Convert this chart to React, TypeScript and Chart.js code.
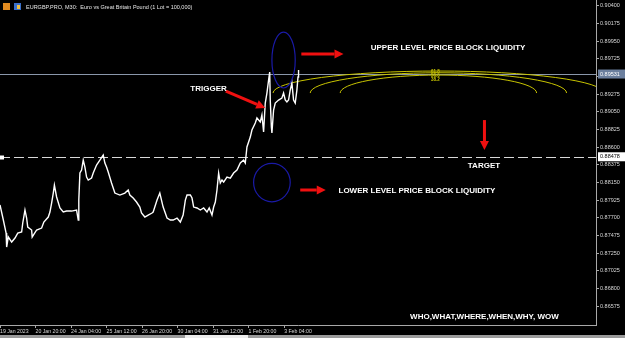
import React, { useEffect, useRef } from "react";
import { Chart, registerables } from "chart.js";
Chart.register(...registerables);

// ---- data (bar index of M30 candles, close price) ----
const barIndex = [0,6,11,12,15,21,27,32,39,41,45,48,50,57,58,66,75,79,87,90,93,96,98,102,108,114,120,129,138,141,142,144,147,150,153,156,159,165,168,174,180,186,189,192,195,201,207,216,225,231,234,240,246,252,255,261,267,274,276,283,288,294,301,307,312,319,325,330,334,337,343,346,349,355,361,367,373,377,382,385,388,391,394,397,400,403,409,415,421,427,433,439,442,445,451,454,460,463,469,472,475,478,481,484,486,487,489,490,493,496,502,508,511,514,517,520,523,526,529,532,535,537,538];
const closePrice = [0.87864,0.87673,0.87507,0.87329,0.87457,0.87393,0.87444,0.87507,0.87520,0.87635,0.87800,0.87698,0.87584,0.87546,0.87457,0.87546,0.87571,0.87647,0.87711,0.87775,0.87889,0.88016,0.88118,0.87966,0.87826,0.87775,0.87787,0.87787,0.87800,0.87673,0.87927,0.88271,0.88309,0.88436,0.88347,0.88220,0.88182,0.88207,0.88271,0.88373,0.88436,0.88500,0.88398,0.88347,0.88284,0.88144,0.88016,0.87991,0.88016,0.88055,0.87991,0.87953,0.87902,0.87838,0.87762,0.87711,0.87736,0.87762,0.87775,0.87927,0.88016,0.87838,0.87698,0.87673,0.87673,0.87698,0.87647,0.87736,0.87927,0.87991,0.87991,0.87953,0.87838,0.87826,0.87800,0.87826,0.87775,0.87826,0.87736,0.87838,0.87902,0.88055,0.88271,0.88144,0.88182,0.88156,0.88220,0.88207,0.88271,0.88309,0.88398,0.88436,0.88398,0.88602,0.88729,0.88818,0.88907,0.88971,0.88920,0.89009,0.88793,0.89162,0.89289,0.89454,0.89556,0.89200,0.88856,0.88780,0.89073,0.89162,0.89200,0.89225,0.89289,0.89200,0.89175,0.89200,0.89327,0.89416,0.89200,0.89162,0.89327,0.89493,0.89582];

const xTickBars = [0, 64, 128, 192, 256, 320, 384, 448, 512];
const xTickLabels = ["19 Jan 2023","20 Jan 20:00","24 Jan 04:00","25 Jan 12:00","26 Jan 20:00","30 Jan 04:00","31 Jan 12:00","1 Feb 20:00","3 Feb 04:00"];
const yTickValues = [0.86575,0.868,0.87025,0.8725,0.87475,0.877,0.87925,0.8815,0.88375,0.886,0.88825,0.8905,0.89275,0.895,0.89725,0.8995,0.90175,0.904];

const xMin = 0, xMax = 1074;
const yMin = 0.86337, yMax = 0.90473;

const currentPrice = 0.89531;
const targetPrice = 0.88478;

// annotation objects in data space (bar, price)
const ellipses = [
  { cx: 511, cy: 0.89709, rx: 21, ry: 0.00356 },
  { cx: 490, cy: 0.8815, rx: 33, ry: 0.00245 },
];
const fibCenter = { x: 790, y: 0.89289 };
const fibArcs = [
  { rx: 298, ry: 0.0028 },
  { rx: 231, ry: 0.00258 },
  { rx: 177, ry: 0.00229 },
];
const fibLabels = [
  { text: "61.8", y: 0.89563 },
  { text: "50.0", y: 0.89512 },
  { text: "38.2", y: 0.89461 },
];
const arrows = [
  { x1: 407, y1: 0.89314, x2: 478, y2: 0.89098 },
  { x1: 543, y1: 0.89785, x2: 619, y2: 0.89785 },
  { x1: 541, y1: 0.88055, x2: 587, y2: 0.88055 },
  { x1: 873, y1: 0.88945, x2: 873, y2: 0.88564 },
];
const notes = [
  { text: "UPPER LEVEL PRICE BLOCK LIQUIDITY", x: 668, y: 0.89862 },
  { text: "TRIGGER", x: 343, y: 0.8934 },
  { text: "TARGET", x: 843, y: 0.8836 },
  { text: "LOWER LEVEL PRICE BLOCK LIQUIDITY", x: 610, y: 0.88042 },
  { text: "WHO,WHAT,WHERE,WHEN,WHY, WOW", x: 739, y: 0.86438 },
];
const titleText = "EURGBP.PRO, M30:  Euro vs Great Britain Pound (1 Lot = 100,000)";

const FONT = "'Liberation Sans', Arial, sans-serif";

const drawArrow = (ctx: CanvasRenderingContext2D, x1: number, y1: number, x2: number, y2: number) => {
  const ang = Math.atan2(y2 - y1, x2 - x1);
  const head = 9, hw = 4.5;
  const bx = x2 - Math.cos(ang) * head, by = y2 - Math.sin(ang) * head;
  ctx.strokeStyle = "#f01010";
  ctx.fillStyle = "#f01010";
  ctx.lineWidth = 3;
  ctx.beginPath();
  ctx.moveTo(x1, y1);
  ctx.lineTo(bx, by);
  ctx.stroke();
  ctx.beginPath();
  ctx.moveTo(x2, y2);
  ctx.lineTo(bx + Math.sin(ang) * hw, by - Math.cos(ang) * hw);
  ctx.lineTo(bx - Math.sin(ang) * hw, by + Math.cos(ang) * hw);
  ctx.closePath();
  ctx.fill();
};

const overlay = {
  id: "mtOverlay",
  beforeDraw(chart: any) {
    const { ctx, width, height } = chart;
    ctx.save();
    ctx.fillStyle = "#000";
    ctx.fillRect(0, 0, width, height);
    ctx.restore();
  },
  beforeDatasetsDraw(chart: any) {
    const { ctx, chartArea: a, scales } = chart;
    const xs = scales.x, ys = scales.y;
    ctx.save();
    ctx.beginPath();
    ctx.rect(a.left, a.top, a.right - a.left, a.bottom - a.top);
    ctx.clip();
    const yc = Math.round(ys.getPixelForValue(currentPrice)) + 0.5;
    ctx.strokeStyle = "#8a97aa";
    ctx.lineWidth = 1;
    ctx.beginPath();
    ctx.moveTo(a.left, yc);
    ctx.lineTo(a.right, yc);
    ctx.stroke();
    const yt = Math.round(ys.getPixelForValue(targetPrice)) + 0.5;
    ctx.strokeStyle = "#d8d8d8";
    ctx.setLineDash([10, 4]);
    ctx.beginPath();
    ctx.moveTo(a.left, yt);
    ctx.lineTo(a.right, yt);
    ctx.stroke();
    ctx.setLineDash([]);
    ctx.fillStyle = "#ffffff";
    ctx.fillRect(a.left, yt - 2, 4, 4);
    const fcx = xs.getPixelForValue(fibCenter.x), fcy = ys.getPixelForValue(fibCenter.y);
    ctx.strokeStyle = "#c8c400";
    ctx.lineWidth = 1;
    fibArcs.forEach((f) => {
      const rx = Math.abs(xs.getPixelForValue(fibCenter.x + f.rx) - fcx);
      const ry = Math.abs(ys.getPixelForValue(fibCenter.y + f.ry) - fcy);
      ctx.beginPath();
      ctx.ellipse(fcx, fcy, rx, ry, 0, Math.PI, 2 * Math.PI);
      ctx.stroke();
    });
    ctx.fillStyle = "#c8c400";
    ctx.font = `bold 4.5px ${FONT}`;
    ctx.textAlign = "center";
    ctx.textBaseline = "middle";
    fibLabels.forEach((l) => ctx.fillText(l.text, fcx - 3, ys.getPixelForValue(l.y)));
    ctx.restore();
  },
  afterDatasetsDraw(chart: any) {
    const { ctx, scales } = chart;
    const xs = scales.x, ys = scales.y;
    ctx.save();
    ctx.strokeStyle = "#1a1aa6";
    ctx.lineWidth = 1.2;
    ellipses.forEach((e) => {
      const cx = xs.getPixelForValue(e.cx), cy = ys.getPixelForValue(e.cy);
      const rx = Math.abs(xs.getPixelForValue(e.cx + e.rx) - cx);
      const ry = Math.abs(ys.getPixelForValue(e.cy + e.ry) - cy);
      ctx.beginPath();
      ctx.ellipse(cx, cy, rx, ry, 0, 0, 2 * Math.PI);
      ctx.stroke();
    });
    arrows.forEach((r) =>
      drawArrow(ctx, xs.getPixelForValue(r.x1), ys.getPixelForValue(r.y1), xs.getPixelForValue(r.x2), ys.getPixelForValue(r.y2))
    );
    ctx.fillStyle = "#ffffff";
    ctx.font = `bold 8px ${FONT}`;
    ctx.textAlign = "left";
    ctx.textBaseline = "middle";
    notes.forEach((n) => ctx.fillText(n.text, xs.getPixelForValue(n.x), ys.getPixelForValue(n.y)));
    ctx.restore();
  },
  afterDraw(chart: any) {
    const { ctx, chartArea: a, scales, width, height } = chart;
    const ys = scales.y;
    ctx.save();
    ctx.font = `5.5px ${FONT}`;
    ctx.textAlign = "left";
    ctx.textBaseline = "middle";
    const yc = ys.getPixelForValue(currentPrice);
    ctx.fillStyle = "#6b7f9e";
    ctx.fillRect(a.right + 2, yc - 4.5, 27, 9);
    ctx.fillStyle = "#ffffff";
    ctx.fillText(currentPrice.toFixed(5), a.right + 4, yc);
    const yt = ys.getPixelForValue(targetPrice);
    ctx.fillStyle = "#ffffff";
    ctx.fillRect(a.right + 2, yt - 4.5, 27, 9);
    ctx.fillStyle = "#000000";
    ctx.fillText(targetPrice.toFixed(5), a.right + 4, yt);
    ctx.fillStyle = "#e08a20";
    ctx.fillRect(3, 3, 7, 7);
    ctx.fillStyle = "#3a6fc8";
    ctx.fillRect(14, 3, 7, 7);
    ctx.fillStyle = "#f0c040";
    ctx.fillRect(17, 5, 3, 4);
    ctx.fillStyle = "#e6e6e6";
    ctx.font = `5.5px ${FONT}`;
    ctx.fillText(titleText, 26, 7);
    ctx.fillStyle = "#9a9a9a";
    ctx.fillRect(0, height - 3, width, 3);
    ctx.fillStyle = "#ececec";
    ctx.fillRect(185, height - 3, 63, 3);
    ctx.restore();
  },
};

export default function App() {
  const ref = useRef<HTMLCanvasElement | null>(null);
  useEffect(() => {
    if (!ref.current) return;
    const points = barIndex.map((b, i) => ({ x: b, y: closePrice[i] }));
    const chart = new Chart(ref.current, {
      type: "line",
      data: {
        datasets: [
          {
            data: points,
            borderColor: "#ffffff",
            borderWidth: 1.4,
            pointRadius: 0,
            tension: 0,
          },
        ],
      },
      options: {
        animation: false,
        responsive: false,
        devicePixelRatio: 1,
        layout: { padding: 0 },
        plugins: { legend: { display: false }, tooltip: { enabled: false }, title: { display: false } },
        scales: {
          x: {
            type: "linear",
            position: "bottom",
            min: xMin,
            max: xMax,
            afterBuildTicks: (s: any) => {
              s.ticks = xTickBars.map((v) => ({ value: v }));
            },
            afterFit: (s: any) => {
              s.height = 13;
              s.paddingLeft = 0;
              s.paddingRight = 0;
            },
            ticks: {
              autoSkip: false,
              maxRotation: 0,
              align: "start",
              padding: 0,
              color: "#d8d8d8",
              font: { family: FONT, size: 5.2 },
              callback: (v: any) => {
                const i = xTickBars.indexOf(Number(v));
                return i >= 0 ? xTickLabels[i] : "";
              },
            },
            grid: { drawOnChartArea: false, drawTicks: true, tickLength: 3, color: "#a8a8a8" },
            border: { display: true, color: "#a8a8a8" },
          },
          y: {
            type: "linear",
            position: "right",
            min: yMin,
            max: yMax,
            afterBuildTicks: (s: any) => {
              s.ticks = yTickValues.map((v) => ({ value: v }));
            },
            afterFit: (s: any) => {
              s.width = 29;
              s.paddingTop = 0;
              s.paddingBottom = 0;
            },
            ticks: {
              autoSkip: false,
              padding: 1,
              color: "#d8d8d8",
              font: { family: FONT, size: 5.5 },
              callback: (v: any) => Number(v).toFixed(5),
            },
            grid: { drawOnChartArea: false, drawTicks: true, tickLength: 3, color: "#a8a8a8" },
            border: { display: true, color: "#a8a8a8" },
          },
        },
      },
      plugins: [overlay],
    });
    return () => chart.destroy();
  }, []);
  return (
    <div style={{ position: "absolute", left: 0, top: 0, width: 625, height: 338, background: "#000" }}>
      <canvas ref={ref} width={625} height={338} style={{ display: "block" }} />
    </div>
  );
}
